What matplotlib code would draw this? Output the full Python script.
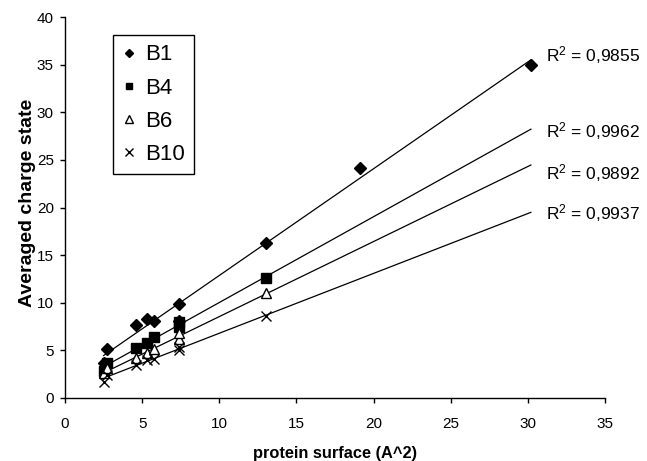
import numpy as np
import matplotlib
matplotlib.use("Agg")
import matplotlib.pyplot as plt

plt.rcParams['font.family'] = ['Liberation Sans', 'DejaVu Sans']
plt.rcParams['mathtext.fontset'] = 'custom'
plt.rcParams['mathtext.rm'] = 'Liberation Sans'
plt.rcParams['mathtext.it'] = 'Liberation Sans'

# protein surface values (shared by all series, B1 has two extra proteins)
x_common = [2.5, 2.7, 4.6, 5.3, 5.8, 7.4, 7.4, 13.0]
x_b1 = x_common + [19.1, 30.2]

y_b1 = [3.7, 5.1, 7.7, 8.3, 8.1, 9.9, 8.1, 16.3, 24.2, 35.0]
y_b4 = [2.8, 3.7, 5.2, 5.8, 6.4, 7.5, 8.0, 12.6]
y_b6 = [2.6, 3.1, 4.2, 4.7, 5.1, 6.2, 6.8, 11.0]
y_b10 = [1.7, 2.4, 3.5, 4.0, 4.1, 5.0, 5.4, 8.6]

labels = ["B1", "B4", "B6", "B10"]
r2_text = ["0,9855", "0,9962", "0,9892", "0,9937"]
r2_ypos = [36.0, 28.0, 23.6, 19.4]

series = [
    (x_b1, y_b1, dict(marker='D', ms=6.5, color='black', linestyle='none')),
    (x_common, y_b4, dict(marker='s', ms=7, color='black', linestyle='none')),
    (x_common, y_b6, dict(marker='^', ms=7.5, markerfacecolor='white',
                          markeredgecolor='black', markeredgewidth=1.0, linestyle='none')),
    (x_common, y_b10, dict(marker='x', ms=7.5, color='black', markeredgewidth=1.0,
                           linestyle='none')),
]

fig = plt.figure(figsize=(6.47, 4.61), dpi=100)
ax = fig.add_axes([0.1005, 0.1367, 0.8345, 0.8263])

x_end = max(x_b1)
for (xs, ys, style), lab, r2, ty in zip(series, labels, r2_text, r2_ypos):
    xs = np.array(xs)
    ys = np.array(ys)
    slope, icpt = np.polyfit(xs, ys, 1)
    xl = np.array([xs.min(), x_end])
    ax.plot(xl, slope * xl + icpt, color='black', lw=0.9, zorder=1)
    ax.plot(xs, ys, label=lab, zorder=2, **style)
    ax.text(31.2, ty, "R$^2$ = " + r2, fontsize=12.5, ha='left', va='center',
            clip_on=False)

ax.set_xlim(0, 35)
ax.set_ylim(0, 40)
ax.set_xticks(np.arange(0, 36, 5))
ax.set_yticks(np.arange(0, 41, 5))
ax.tick_params(direction='out', length=3.6, width=1, labelsize=11)
ax.tick_params(axis='x', pad=10)
ax.tick_params(axis='y', pad=4.5)
for side in ['top', 'right']:
    ax.spines[side].set_visible(False)
for side in ['left', 'bottom']:
    ax.spines[side].set_linewidth(1)

ax.set_xlabel("protein surface (A^2)", fontsize=11.8, fontweight='bold')
ax.set_ylabel("Averaged charge state", fontsize=14, fontweight='bold')
ax.xaxis.label.set_va('baseline')
ax.xaxis.set_label_coords(0.5, -0.157)
ax.yaxis.label.set_va('center')
ax.yaxis.set_label_coords(-0.070, 0.513)

leg = ax.legend(loc='upper left', bbox_to_anchor=(0.089, 0.953), fontsize=16,
                frameon=True, fancybox=False, edgecolor='black', framealpha=1,
                handlelength=0.6, handletextpad=0.4, labelspacing=0.55,
                borderpad=0.42, markerscale=0.7, borderaxespad=0)
leg.get_frame().set_linewidth(1)

fig.savefig("out.png", dpi=100)
